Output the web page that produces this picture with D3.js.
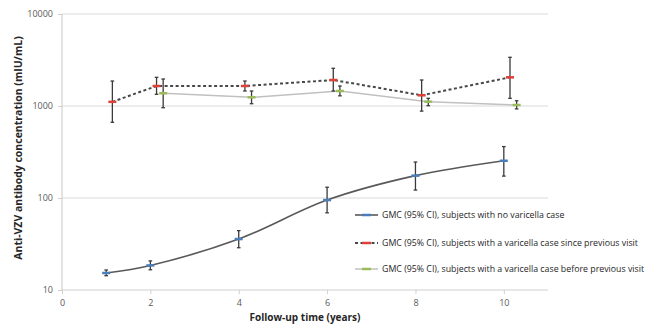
<!DOCTYPE html>
<html>
<head>
<meta charset="utf-8">
<script src="https://cdn.jsdelivr.net/npm/d3@7"></script>
<style>
  body { margin: 0; background: #fff; }
  text { font-family: "Open Sans", "Liberation Sans", sans-serif; }
</style>
</head>
<body>
<script>
// follow-up visits (years)
var years = [1, 2, 4, 6, 8, 10];

// GMC (95% CI), subjects with no varicella case
var noneGmc = [15.3, 18.5, 35.8, 95, 175, 254];
var noneLo  = [14.3, 16.6, 28.8, 69, 122, 173];
var noneHi  = [16.5, 20.7, 44.2, 131, 246, 362];

// GMC (95% CI), varicella case since previous visit
var sinceGmc = [1110, 1650, 1650, 1917, 1307, 2050];
var sinceLo  = [665, 1340, 1455, 1455, 880, 1212];
var sinceHi  = [1868, 2050, 1868, 2570, 1917, 3385];

// GMC (95% CI), varicella case before previous visit (from year 2)
var beforeYears = [2, 4, 6, 8, 10];
var beforeGmc = [1375, 1243, 1455, 1114, 1025];
var beforeLo  = [958, 1059, 1290, 1008, 930];
var beforeHi  = [1965, 1455, 1650, 1212, 1140];

var xTicks = [0, 2, 4, 6, 8, 10];
var yTicks = [10, 100, 1000, 10000];

var legendLabels = [
  "GMC (95% CI), subjects with no varicella case",
  "GMC (95% CI), subjects with a varicella case since previous visit",
  "GMC (95% CI), subjects with a varicella case before previous visit"
];

var W = 648, H = 325;
var svg = d3.select("body").append("svg").attr("width", W).attr("height", H);

// plot area (note: "top" is reserved on window, so use pTop etc.)
var pLeft = 62, pRight = 548, pTop = 14, pBottom = 290;

var xScale = d3.scaleLinear().domain([0, 11]).range([pLeft, pRight]);
var yScale = d3.scaleLog().domain([10, 10000]).range([pBottom, pTop]);

// gridlines
svg.append("g").selectAll("line")
  .data(yTicks.slice(1))
  .enter().append("line")
  .attr("x1", pLeft).attr("x2", pRight)
  .attr("y1", function(d) { return yScale(d); })
  .attr("y2", function(d) { return yScale(d); })
  .attr("stroke", "#d9d9d9").attr("stroke-width", 1.2);

// x axis
var xAxis = d3.axisBottom(xScale).tickValues(xTicks).tickSize(4).tickPadding(6)
  .tickFormat(d3.format("d"));
var gx = svg.append("g").attr("transform", "translate(0," + pBottom + ")").call(xAxis);
gx.select(".domain").attr("stroke", "#d0d0d0").attr("stroke-width", 1.2)
  .attr("d", "M" + pLeft + ",0H" + pRight);
gx.selectAll(".tick line").attr("stroke", "#d0d0d0");
gx.selectAll(".tick text").attr("fill", "#595959").style("font-size", "9px");

// y axis
var yAxis = d3.axisLeft(yScale).tickValues(yTicks).tickSize(4).tickPadding(5)
  .tickFormat(d3.format("d"));
var gy = svg.append("g").attr("transform", "translate(" + pLeft + ",0)").call(yAxis);
gy.select(".domain").attr("stroke", "#d0d0d0").attr("stroke-width", 1.2)
  .attr("d", "M0," + pTop + "V" + pBottom);
gy.selectAll(".tick line").attr("stroke", "#d0d0d0");
gy.selectAll(".tick text").attr("fill", "#595959").style("font-size", "9px");

// axis titles
svg.append("text")
  .attr("x", (pLeft + pRight) / 2).attr("y", 321)
  .attr("text-anchor", "middle")
  .style("font-size", "10px").style("font-weight", "bold").attr("fill", "#262626")
  .text("Follow-up time (years)");

svg.append("text")
  .attr("transform", "translate(22,148) rotate(-90)")
  .attr("text-anchor", "middle")
  .style("font-size", "10.5px").style("font-weight", "bold").attr("fill", "#262626")
  .text("Anti-VZV antibody concentration (mIU/mL)");

// build series
function makeRows(xs, g, lo, hi, shift) {
  var rows = [];
  for (var i = 0; i < xs.length; i++) {
    rows.push({ x: xs[i] + shift, g: g[i], lo: lo[i], hi: hi[i] });
  }
  return rows;
}

var series = [
  { rows: makeRows(years, noneGmc, noneLo, noneHi, 0), line: "#595959", dash: null, width: 1.6, mark: "#4a7ebb", curve: d3.curveCatmullRom },
  { rows: makeRows(years, sinceGmc, sinceLo, sinceHi, 0.14), line: "#484848", dash: "3,2.5", width: 2, mark: "#e0403a", curve: d3.curveLinear },
  { rows: makeRows(beforeYears, beforeGmc, beforeLo, beforeHi, 0.29), line: "#c0c0c0", dash: null, width: 1.5, mark: "#9bbb59", curve: d3.curveLinear }
];

// lines first
series.slice().reverse().forEach(function(s) {
  var line = d3.line()
    .x(function(d) { return xScale(d.x); })
    .y(function(d) { return yScale(d.g); })
    .curve(s.curve);
  svg.append("path").datum(s.rows)
    .attr("d", line)
    .attr("fill", "none")
    .attr("stroke", s.line)
    .attr("stroke-width", s.width)
    .attr("stroke-dasharray", s.dash);
});

// error bars and markers
series.forEach(function(s) {
  var g = svg.append("g");
  g.selectAll("line.err").data(s.rows).enter().append("line")
    .attr("x1", function(d) { return xScale(d.x); })
    .attr("x2", function(d) { return xScale(d.x); })
    .attr("y1", function(d) { return yScale(d.lo); })
    .attr("y2", function(d) { return yScale(d.hi); })
    .attr("stroke", "#3a3a3a").attr("stroke-width", 1.3);
  ["lo", "hi"].forEach(function(k) {
    g.selectAll("line.cap" + k).data(s.rows).enter().append("line")
      .attr("x1", function(d) { return xScale(d.x) - 1.8; })
      .attr("x2", function(d) { return xScale(d.x) + 1.8; })
      .attr("y1", function(d) { return yScale(d[k]); })
      .attr("y2", function(d) { return yScale(d[k]); })
      .attr("stroke", "#3a3a3a").attr("stroke-width", 1.3);
  });
  g.selectAll("line.mark").data(s.rows).enter().append("line")
    .attr("x1", function(d) { return xScale(d.x) - 4; })
    .attr("x2", function(d) { return xScale(d.x) + 4; })
    .attr("y1", function(d) { return yScale(d.g); })
    .attr("y2", function(d) { return yScale(d.g); })
    .attr("stroke", s.mark).attr("stroke-width", 2.5);
});

// legend
var legend = svg.append("g");
var legY = [215, 243, 269];
series.forEach(function(s, i) {
  var y = legY[i];
  legend.append("line")
    .attr("x1", 355).attr("x2", 378).attr("y1", y).attr("y2", y)
    .attr("stroke", s.line).attr("stroke-width", s.width)
    .attr("stroke-dasharray", s.dash);
  legend.append("line")
    .attr("x1", 362).attr("x2", 371).attr("y1", y).attr("y2", y)
    .attr("stroke", s.mark).attr("stroke-width", 2.5);
  legend.append("text")
    .attr("x", 382).attr("y", y + 3)
    .style("font-size", "8.8px").attr("fill", "#262626")
    .text(legendLabels[i]);
});
</script>
</body>
</html>
